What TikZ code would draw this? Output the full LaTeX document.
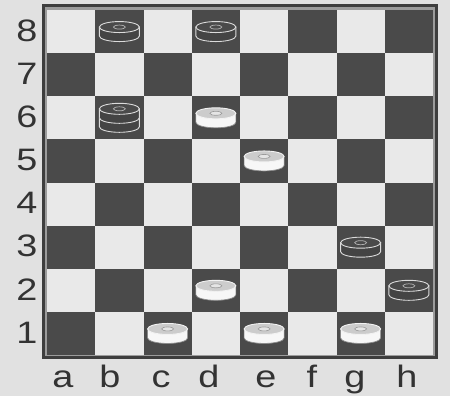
\documentclass[tikz,border=0pt]{standalone}
\usepackage{fontspec}
\setmainfont{Liberation Sans}
\definecolor{boardbg}{HTML}{E1E1E1}
\definecolor{lightsq}{HTML}{E9E9E9}
\definecolor{darksq}{HTML}{4A4A4A}
\definecolor{framecol}{HTML}{3E3E3E}
\definecolor{framegap}{HTML}{9C9C9C}
\definecolor{labelcol}{HTML}{333333}
\tikzset{
  darkbody/.style={fill=darksq!92!black, draw=white!86!black, line width=0.9pt},
  darktop/.style={fill=darksq, draw=white!86!black, line width=0.9pt},
  darkmark/.style={draw=white!70!black, line width=0.7pt},
  whitebody/.style={fill=white!97!black, draw=black!45, line width=0.7pt},
  whitetop/.style={fill=white!80!black, draw=white!95!black, line width=0.9pt},
  whitemark/.style={draw=black!40, fill=white!90!black, line width=0.6pt},
  ranklabel/.style={font=\fontsize{31}{31}\selectfont, text=labelcol, inner sep=0pt},
  filelabel/.style={font=\fontsize{31}{31}\selectfont, text=labelcol, inner sep=0pt, anchor=base},
}
\newcommand{\widen}[1]{\scalebox{1.22}[1]{#1}}
% one checker: column, row from top, colour (dark/white), body height
\newcommand{\checker}[4]{%
  \pgfmathsetmacro\cx{47+48.25*(#1+0.5)}
  \pgfmathsetmacro\cy{10+43.125*(#2+0.5)}
  \pgfmathsetmacro\hh{#4/2}
  \draw[#3body] (\cx-20,\cy-\hh) -- (\cx-20,\cy+\hh)
    arc[start angle=180, end angle=0, x radius=20, y radius=5.5]
    -- (\cx+20,\cy-\hh) -- cycle;
  \ifdim #4pt>10pt
    \draw[#3body] (\cx-20,\cy) arc[start angle=180, end angle=0, x radius=20, y radius=5.5];
  \fi
  \draw[#3top] (\cx,\cy-\hh) ellipse[x radius=20, y radius=5.5];
  \draw[#3mark] (\cx,\cy-\hh) ellipse[x radius=6, y radius=2];
}

\begin{document}
\begin{tikzpicture}[x=1pt, y=-1pt]
  \useasboundingbox (0,0) rectangle (450,396);
  \fill[boardbg] (0,0) rectangle (450,396);
  % frame and squares
  \draw[framecol, line width=3pt, fill=framegap] (43.5,5.5) rectangle (436.5,357.5);
  \foreach \col in {0,...,7} {
    \foreach \row in {0,...,7} {
      \pgfmathtruncatemacro\sqsum{\col+\row}
      \ifodd\sqsum \def\sqcol{darksq}\else\def\sqcol{lightsq}\fi
      \fill[\sqcol] ({47+48.25*\col},{10+43.125*\row}) rectangle ++(48.25,43.125);
    }
  }
  % labels
  \foreach \r in {1,...,8}
    \node[ranklabel] (rank\r) at (27,{10+43.125*(8-\r+0.5)-1}) {\widen{\r}};
  \foreach \f/\fx in {a/63,b/110,c/161,d/209,e/266,f/312,g/355,h/407}
    \node[filelabel] (file\f) at (\fx,387) {\widen{\f}};
  % dark pieces
  \checker{1}{0}{dark}{9}
  \checker{3}{0}{dark}{9}
  \checker{1}{2}{dark}{18}
  \checker{6}{5}{dark}{9}
  \checker{7}{6}{dark}{9}
  % white pieces
  \checker{3}{2}{white}{9}
  \checker{4}{3}{white}{9}
  \checker{3}{6}{white}{9}
  \checker{2}{7}{white}{9}
  \checker{4}{7}{white}{9}
  \checker{6}{7}{white}{9}
\end{tikzpicture}
\end{document}
